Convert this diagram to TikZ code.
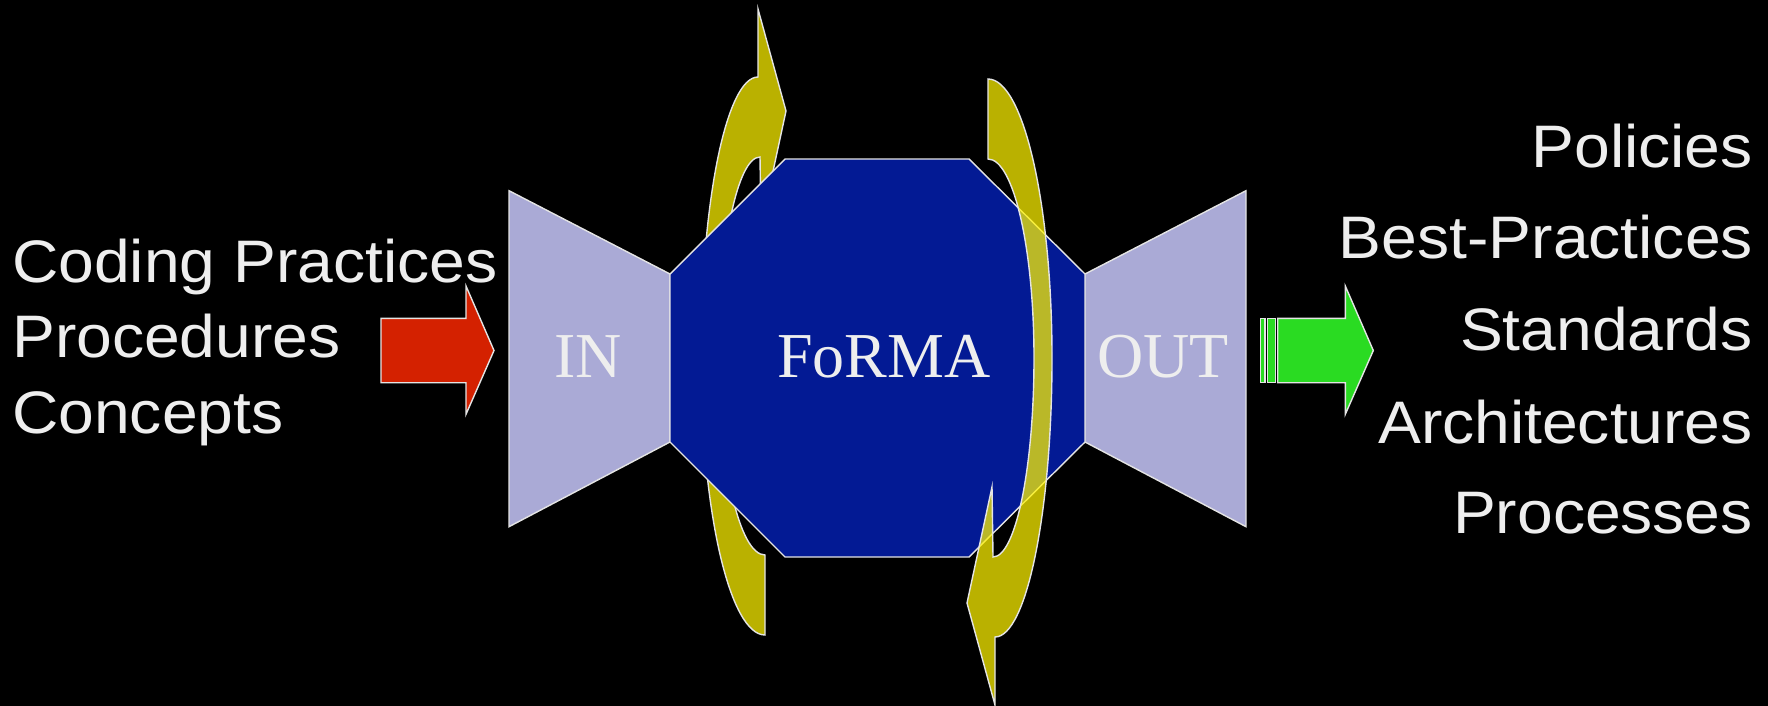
\documentclass[tikz,border=0pt]{standalone}
\usepackage{fontspec}
\setmainfont{Liberation Serif}
\newfontfamily\sansf{Liberation Sans}
\definecolor{edgegray}{RGB}{228,228,228}
\definecolor{octblue}{RGB}{3,26,148}
\definecolor{trapblue}{RGB}{170,170,214}
\definecolor{curvyellow}{RGB}{255,243,0}
\definecolor{arrred}{RGB}{212,33,0}
\definecolor{arrgreen}{RGB}{42,219,34}
\definecolor{txtgray}{RGB}{238,238,238}
\tikzset{
  outl/.style={draw=edgegray, line width=1.4pt, line join=miter},
  octstyle/.style={outl, fill=octblue},
  trapstyle/.style={outl, fill=trapblue},
  curvstyle/.style={outl, fill=curvyellow, fill opacity=0.73},
  redarr/.style={outl, fill=arrred},
  greenarr/.style={outl, fill=arrgreen},
  boxtext/.style={inner sep=0pt, anchor=base, text=txtgray, font=\fontsize{64}{77}\selectfont},
  sidetext/.style={inner sep=0pt, text=txtgray, font=\sansf\fontsize{60}{72}\selectfont}
}
\begin{document}
\begin{tikzpicture}[x=1pt,y=-1pt]
\useasboundingbox (0,0) rectangle (1768,706);
\fill[black] (0,0) rectangle (1768,706);

% left curved arrow (behind), the right one turned half a turn
\begin{scope}[rotate around={180:(876.5,357)}]
  \path[curvstyle] (988,79) .. controls (1023.3,79) and (1052,204) .. (1052,358)
    .. controls (1052,512) and (1026.5,637) .. (995,637)
    -- (995,705) -- (967,603) -- (992,487) -- (993,557)
    .. controls (1015.6,557) and (1034,467.9) .. (1034,358)
    .. controls (1034,248) and (1013.4,159) .. (988,159) -- cycle;
\end{scope}

% IN and OUT trapezoids
\path[trapstyle] (509,190.7) -- (670,274) -- (670,442) -- (509,526.7) -- cycle;
\path[trapstyle] (1085,274) -- (1246,190.7) -- (1246,526.7) -- (1085,442) -- cycle;

% octagon
\path[octstyle] (670,274) -- (785,159) -- (969,159) -- (1085,274) -- (1085,442)
  -- (969,557) -- (785,557) -- (670,442) -- cycle;

% right curved arrow (in front, translucent)
\path[curvstyle] (988,79) .. controls (1023.3,79) and (1052,204) .. (1052,358)
  .. controls (1052,512) and (1026.5,637) .. (995,637)
  -- (995,705) -- (967,603) -- (992,487) -- (993,557)
  .. controls (1015.6,557) and (1034,467.9) .. (1034,358)
  .. controls (1034,248) and (1013.4,159) .. (988,159) -- cycle;

% box labels
\node[boxtext] (in) at (588,377.5) {IN};
\node[boxtext] (forma) at (884,377.5) {FoRMA};
\node[boxtext] (out) at (1163,377.5) {OUT};

% red arrow
\path[redarr] (381,318.3) -- (466,318.3) -- (466,286) -- (494,350.5) -- (466,414.3)
  -- (466,382.7) -- (381,382.7) -- cycle;

% green arrow with stripes
\path[greenarr] (1260.7,318.3) rectangle (1265,382.7);
\path[greenarr] (1267.7,318.3) rectangle (1275.7,382.7);
\path[greenarr] (1277.7,318.3) -- (1345.3,318.3) -- (1345.3,286) -- (1373.3,350.5)
  -- (1345.3,414.3) -- (1345.3,382.7) -- (1277.7,382.7) -- cycle;

% left texts
\node[sidetext, anchor=base west] (t1) at (12,282) {\scalebox{1.07}[1]{Coding Practices}};
\node[sidetext, anchor=base west] (t2) at (12,357.5) {\scalebox{1.07}[1]{Procedures}};
\node[sidetext, anchor=base west] (t3) at (12,433) {\scalebox{1.07}[1]{Concepts}};

% right texts
\node[sidetext, anchor=base east] (r1) at (1753,167.3) {\scalebox{1.07}[1]{Policies}};
\node[sidetext, anchor=base east] (r2) at (1753,258.3) {\scalebox{1.07}[1]{Best-Practices}};
\node[sidetext, anchor=base east] (r3) at (1753,350.7) {\scalebox{1.07}[1]{Standards}};
\node[sidetext, anchor=base east] (r4) at (1753,443.3) {\scalebox{1.07}[1]{Architectures}};
\node[sidetext, anchor=base east] (r5) at (1753,533.3) {\scalebox{1.07}[1]{Processes}};
\end{tikzpicture}
\end{document}
